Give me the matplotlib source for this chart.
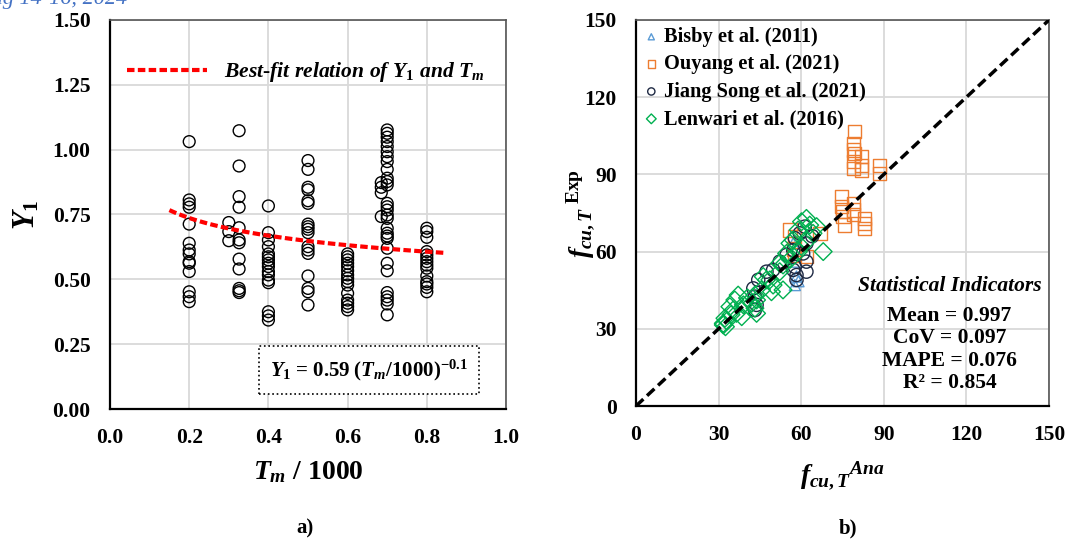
import matplotlib
matplotlib.use('Agg')
import matplotlib.pyplot as plt
import numpy as np

#Times-like bold text everywhere, math parts use the same serif faces
plt.rcParams['font.family'] = 'Liberation Serif'
plt.rcParams['font.weight'] = 'bold'
plt.rcParams['axes.labelweight'] = 'bold'
plt.rcParams['mathtext.fontset'] = 'custom'
plt.rcParams['mathtext.rm'] = 'Liberation Serif:bold'
plt.rcParams['mathtext.it'] = 'Liberation Serif:italic:bold'
plt.rcParams['mathtext.bf'] = 'Liberation Serif:bold'

# ---- panel a) : Y1 against Tm/1000 ----
tm_groups = [0.2, 0.3, 0.326, 0.4, 0.5, 0.6, 0.685, 0.7, 0.8]
y1_020 = [1.031, 0.806, 0.791, 0.778, 0.713, 0.639, 0.613, 0.598, 0.568, 0.562, 0.530, 0.452, 0.433, 0.414]
y1_030 = [0.719, 0.684, 0.649]
y1_033 = [1.073, 0.937, 0.819, 0.778, 0.699, 0.652, 0.641, 0.578, 0.540, 0.465, 0.456, 0.449]
y1_040 = [0.783, 0.680, 0.652, 0.626, 0.598, 0.587, 0.575, 0.562, 0.549, 0.530, 0.517, 0.497, 0.487, 0.375, 0.359, 0.343]
y1_050 = [0.958, 0.924, 0.855, 0.845, 0.803, 0.793, 0.713, 0.703, 0.693, 0.680, 0.626, 0.613, 0.600, 0.513, 0.465, 0.452, 0.401]
y1_060 = [0.598, 0.587, 0.575, 0.562, 0.549, 0.533, 0.517, 0.504, 0.491, 0.478, 0.446, 0.420, 0.408, 0.395, 0.382]
y1_069 = [0.873, 0.855, 0.834, 0.742]
y1_070 = [1.076, 1.063, 1.048, 1.031, 1.012, 0.992, 0.973, 0.954, 0.924, 0.890, 0.877, 0.864, 0.793, 0.780,
          0.767, 0.748, 0.735, 0.697, 0.678, 0.667, 0.658, 0.620, 0.562, 0.533, 0.449, 0.433, 0.420, 0.405, 0.363]
y1_080 = [0.697, 0.684, 0.662, 0.607, 0.594, 0.581, 0.568, 0.555, 0.543, 0.513, 0.491, 0.482, 0.469, 0.452]
y1_groups = [y1_020, y1_030, y1_033, y1_040, y1_050, y1_060, y1_069, y1_070, y1_080]

#power-law fit Y1 = a * (Tm/1000)^b
fit_a = 0.588
fit_b = -0.14
fit_start = 0.15
fit_end = 0.85

# ---- panel b) : experimental vs analytical strength ----
bisby_ana = [58.3, 57.7, 57.1, 58.3, 59.0]
bisby_exp = [50.3, 47.0, 63.2, 56.1, 48.5]

ouyang_ana = [79.5, 78.9, 78.9, 79.5, 81.9, 78.9, 81.9, 78.9, 81.9, 88.5, 88.5, 74.6, 74.6, 78.9, 75.2,
              78.9, 75.2, 83.1, 83.1, 83.1, 75.8, 78.9, 55.9, 57.7, 66.8, 57.7, 61.9, 57.1]
ouyang_exp = [106.6, 102.1, 99.5, 98.2, 96.9, 94.9, 93.6, 92.3, 91.7, 93.6, 90.4, 81.4, 77.6, 78.8, 75.5,
              76.2, 73.6, 72.9, 71.0, 69.1, 70.3, 74.3, 68.4, 65.8, 67.1, 58.7, 58.0, 61.0]

jiang_ana = [61.3, 59.5, 57.7, 61.9, 57.1, 60.7, 61.9, 57.7, 61.9, 58.3, 47.4, 44.4, 42.6, 43.2, 43.2,
             49.8, 52.2, 54.7, 57.1, 58.3, 43.8, 64.0]
jiang_exp = [69.7, 67.1, 65.2, 63.2, 60.6, 59.3, 56.1, 54.1, 52.2, 50.9, 52.2, 49.0, 45.7, 42.5, 37.3,
             52.9, 56.1, 58.7, 52.9, 49.0, 39.3, 66.0]

lenwari_ana = [31.7, 32.3, 34.1, 35.9, 37.1, 35.3, 39.0, 42.0, 43.8, 43.2, 45.6, 46.2, 48.6, 49.8, 52.2,
               53.4, 52.2, 54.7, 55.9, 57.1, 60.1, 61.9, 64.3, 68.0, 65.6, 58.9, 63.1, 31.7, 36.5, 38.4,
               43.8, 43.2, 47.4, 49.2, 53.4, 33.0, 34.5, 32.5, 40.5, 56.0, 60.0, 62.0, 59.0]
lenwari_exp = [32.1, 34.1, 38.6, 41.2, 43.1, 37.3, 39.3, 39.9, 41.2, 38.0, 45.1, 50.3, 49.0, 47.0, 52.2,
               45.1, 55.5, 59.3, 63.2, 64.5, 71.6, 72.9, 67.1, 60.0, 69.7, 68.4, 70.3, 31.5, 36.0, 34.7,
               36.0, 43.1, 49.0, 44.4, 54.8, 33.0, 35.5, 30.8, 42.0, 57.0, 62.0, 64.0, 60.0]

stat_names = ['Mean', 'CoV', 'MAPE', 'R\u00b2']
stat_values = [0.997, 0.097, 0.076, 0.854]

fig = plt.figure(figsize=(10.68, 5.46), dpi=100)
axA = fig.add_axes([0.1030, 0.2509, 0.3708, 0.7125])
axB = fig.add_axes([0.5955, 0.2564, 0.3867, 0.7070])

#excel look: black left/bottom, grey top/right, light grid, no tick marks
for ax in (axA, axB):
    ax.set_axisbelow(True)
    ax.grid(True, color='#d9d9d9', lw=1.3)
    ax.spines['left'].set_color('black')
    ax.spines['bottom'].set_color('black')
    ax.spines['left'].set_linewidth(1.6)
    ax.spines['bottom'].set_linewidth(1.6)
    ax.spines['top'].set_color('#555555')
    ax.spines['right'].set_color('#555555')
    ax.spines['top'].set_linewidth(1.2)
    ax.spines['right'].set_linewidth(1.2)
    ax.tick_params(length=0, pad=14, labelsize=15.5)

# panel a
for tm, ys in zip(tm_groups, y1_groups):
    axA.scatter(np.full(len(ys), tm), ys, s=8.5**2, facecolors='none', edgecolors='black',
                linewidths=1.0, zorder=3)

tm_fit = np.linspace(fit_start, fit_end, 100)
fit_line, = axA.plot(tm_fit, fit_a * tm_fit ** fit_b, color='#ff0000', lw=3, dashes=(1.8, 0.8), zorder=4,
                     label=r'$Best$-$fit\ relation\ of\ Y_1\ and\ T_m$')
axA.legend(handles=[fit_line], loc='center left', bbox_to_anchor=(0.043, 0.866), frameon=False,
           borderpad=0, borderaxespad=0, handlelength=3.7, handletextpad=0.8, fontsize=15.5)

axA.text(0.654, 0.150, r'$Y_1$ = %.2f ($T_m$/1000)$^{%.1f}$' % (fit_a, fit_b), ha='center', va='center',
         fontsize=15, bbox=dict(boxstyle='square,pad=0.55', fc='white', ec='black', ls=':', lw=1.2))

axA.set_xlim(0, 1.0)
axA.set_ylim(0, 1.5)
axA.set_xticks(np.arange(0, 1.01, 0.2))
axA.set_yticks(np.arange(0, 1.51, 0.25))
axA.xaxis.set_major_formatter(matplotlib.ticker.FormatStrFormatter('%.1f'))
axA.yaxis.set_major_formatter(matplotlib.ticker.FormatStrFormatter('%.2f'))
axA.set_xlabel(r'$T_m$ / 1000', fontsize=20, labelpad=8)
axA.set_ylabel(r'$Y_1$', fontsize=22, labelpad=8)

# panel b
axB.plot([0, 150], [0, 150], color='black', lw=2.5, dashes=(2.9, 1.45), zorder=5)
axB.scatter(bisby_ana, bisby_exp, marker='^', s=8**2, facecolors='none', edgecolors='#5b9bd5',
            linewidths=1.0, zorder=3, label='Bisby et al. (2011)')
axB.scatter(ouyang_ana, ouyang_exp, marker='s', s=9.5**2, facecolors='none', edgecolors='#ed7d31',
            linewidths=1.0, zorder=3, label='Ouyang et al. (2021)')
axB.scatter(jiang_ana, jiang_exp, marker='o', s=9.5**2, facecolors='none', edgecolors='#1f2a44',
            linewidths=1.0, zorder=3, label='Jiang Song et al. (2021)')
axB.scatter(lenwari_ana, lenwari_exp, marker='D', s=9**2, facecolors='none', edgecolors='#00b050',
            linewidths=1.0, zorder=3, label='Lenwari et al. (2016)')
axB.legend(loc='upper left', bbox_to_anchor=(0.0, 1.0), frameon=False, fontsize=14.7, markerscale=0.55,
           handlelength=0.8, handletextpad=0.2, labelspacing=0.36, borderpad=0.35, borderaxespad=0)

axB.text(113.9, 46.6, 'Statistical Indicators', ha='center', va='center', fontsize=15.5, style='italic')
stat_lines = '\n'.join('%s = %.3f' % (n, v) for n, v in zip(stat_names, stat_values))
axB.text(113.9, 22.0, stat_lines, ha='center', va='center', fontsize=15.5, linespacing=1.15)

axB.set_xlim(0, 150)
axB.set_ylim(0, 150)
axB.set_xticks(np.arange(0, 151, 30))
axB.set_yticks(np.arange(0, 151, 30))
axB.set_xlabel(r'${f_{cu,T}}^{Ana}$', fontsize=20, labelpad=10)
axB.set_ylabel(r'${f_{cu,T}}^{\ \mathrm{Exp}}$', fontsize=20)
axB.yaxis.set_label_coords(-0.095, 0.5)

fig.text(305 / 1068, 1 - 528 / 546, 'a)', ha='center', va='center', fontsize=15)
fig.text(848 / 1068, 1 - 528 / 546, 'b)', ha='center', va='center', fontsize=15)
fig.text(-0.02, 1 - 4 / 546, 'Aug 14-16, 2024', ha='left', va='baseline', fontsize=16,
         style='italic', fontweight='normal', color='#4472c4')

fig.savefig('out.png', dpi=100)
